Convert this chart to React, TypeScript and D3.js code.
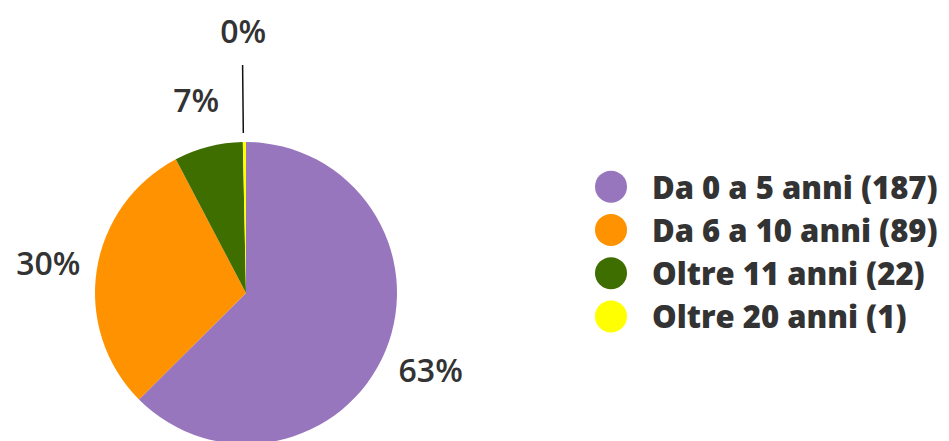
import { useEffect, useRef } from "react";
import * as d3 from "d3";

const categories = ["Da 0 a 5 anni", "Da 6 a 10 anni", "Oltre 11 anni", "Oltre 20 anni"];
const counts = [187, 89, 22, 1];
const colors = ["#9876bd", "#ff9200", "#3f6e00", "#ffff00"];

const W = 949;
const H = 441;

export default function App() {
  const svgRef = useRef<SVGSVGElement | null>(null);

  useEffect(() => {
    const svg = d3.select(svgRef.current);
    svg.selectAll("*").remove();

    const cx = 246;
    const cy = 293;
    const r = 151;
    const total = d3.sum(counts);

    const data = categories.map((c, i) => ({ name: c, value: counts[i], color: colors[i] }));
    const pie = d3.pie<{ name: string; value: number; color: string }>()
      .value(d => d.value)
      .sort(null);
    const arcs = pie(data);
    const arcGen = d3.arc<d3.PieArcDatum<{ name: string; value: number; color: string }>>()
      .innerRadius(0)
      .outerRadius(r);

    const g = svg.append("g").attr("transform", `translate(${cx},${cy})`);

    g.selectAll("path.slice")
      .data(arcs)
      .enter()
      .append("path")
      .attr("class", "slice")
      .attr("d", arcGen)
      .attr("fill", d => d.data.color);

    // percent labels outside the pie
    arcs.forEach(a => {
      const mid = (a.startAngle + a.endAngle) / 2;
      const pct = Math.round((a.value / total) * 100);
      const small = a.endAngle - a.startAngle < 0.05;
      const labelR = small ? 263 : 200;
      const dx = Math.sin(mid);
      const dy = -Math.cos(mid);
      if (small) {
        g.append("line")
          .attr("x1", dx * 160 - 1)
          .attr("y1", dy * 160)
          .attr("x2", dx * 228 - 1)
          .attr("y2", dy * 228)
          .attr("stroke", "#111")
          .attr("stroke-width", 1.5);
      }
      g.append("text")
        .attr("x", dx * labelR)
        .attr("y", dy * labelR)
        .attr("text-anchor", "middle")
        .attr("dominant-baseline", "central")
        .attr("font-family", "'Open Sans', sans-serif")
        .attr("font-size", 32)
        .attr("font-weight", 600)
        .attr("fill", "#333")
        .text(`${pct}%`);
    });

    // legend
    const legendY = d3.scaleBand<string>()
      .domain(categories)
      .range([165, 338]);
    const lg = svg.append("g");
    const items = lg.selectAll("g.item")
      .data(data)
      .enter()
      .append("g")
      .attr("class", "item")
      .attr("transform", d => `translate(611,${(legendY(d.name) ?? 0) + legendY.bandwidth() / 2})`);
    items.append("circle")
      .attr("r", 16)
      .attr("fill", d => d.color);
    items.append("text")
      .attr("x", 41)
      .attr("dominant-baseline", "central")
      .attr("font-family", "'Open Sans', sans-serif")
      .attr("font-size", 31)
      .attr("font-weight", 800)
      .attr("fill", "#333")
      .text(d => `${d.name} (${d.value})`);
  }, []);

  return (
    <svg
      ref={svgRef}
      width={W}
      height={H}
      style={{ position: "absolute", left: 0, top: 0, background: "#fff" }}
    />
  );
}
